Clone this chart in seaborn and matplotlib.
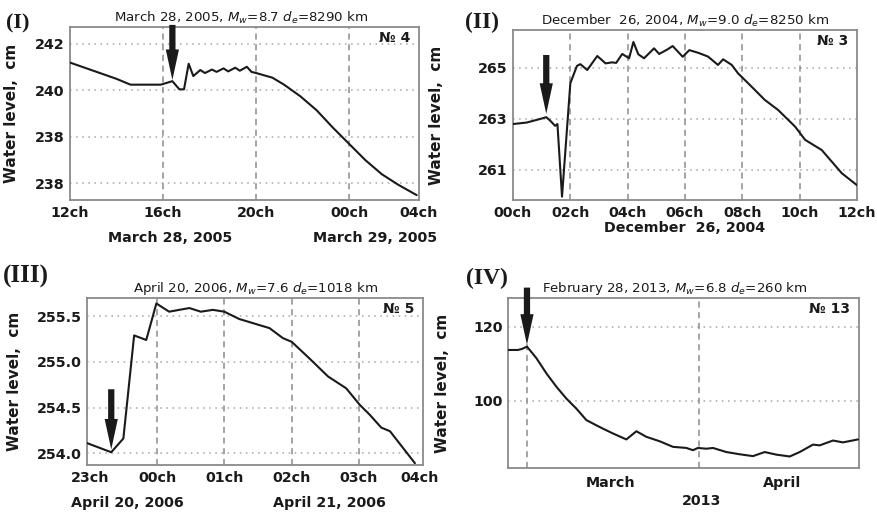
import numpy as np
import pandas as pd
import matplotlib
matplotlib.use("Agg")
import matplotlib.pyplot as plt
import seaborn as sns

sns.set_theme(style="white")
plt.rcParams["font.family"] = ["DejaVu Sans"]
plt.rcParams["mathtext.fontset"] = "dejavusans"

INK = "#1a1a1a"
FRAME = "#8a8a8a"

# ---------------- Panel I : March 28, 2005 (hours) ----------------
p1_hours = [12.0, 13.0, 14.0, 14.6, 15.9, 16.4, 16.7, 16.9, 17.1, 17.3, 17.6, 17.8,
            18.1, 18.3, 18.6, 18.8, 19.1, 19.3, 19.6, 19.8, 20.0, 20.7, 21.2, 21.9,
            22.6, 23.3, 24.0, 24.7, 25.4, 26.1, 26.9]
p1_level = [241.2, 240.85, 240.5, 240.25, 240.25, 240.4, 240.05, 240.05, 241.15, 240.62,
            240.88, 240.75, 240.9, 240.8, 240.95, 240.82, 240.98, 240.85, 241.02, 240.8,
            240.75, 240.55, 240.25, 239.75, 239.15, 238.4, 237.7, 237.0, 236.4, 235.95,
            235.5]
p1_ticks = [12, 16, 20, 24, 27]
p1_ticklabels = ["12ch", "16ch", "20ch", "00ch", "04ch"]
p1_vlines = [16, 20, 24]
p1_yticks = [242, 240, 238, 236]
p1_yticklabels = ["242", "240", "238", "238"]
p1_dates = ["March 28, 2005", "March 29, 2005"]
p1_date_x = [16.3, 25.1]
p1_arrow = (16.4, 242.82, 240.45)  # event time, arrow tail level, arrow tip level

# ---------------- Panel II : December 26, 2004 (hours) ----------------
p2_hours = [0.0, 0.48, 0.95, 1.16, 1.3, 1.47, 1.55, 1.71, 2.0, 2.23, 2.35, 2.59, 2.94,
            3.23, 3.45, 3.6, 3.81, 4.05, 4.2, 4.37, 4.57, 4.92, 5.1, 5.39, 5.57, 5.92,
            6.15, 6.45, 6.8, 7.15, 7.33, 7.63, 7.85, 8.32, 8.78, 9.25, 9.84, 10.19,
            10.77, 11.47, 12.0]
p2_level = [262.8, 262.86, 263.0, 263.07, 262.93, 262.73, 262.8, 259.95, 264.4, 265.08,
            265.15, 264.92, 265.47, 265.18, 265.22, 265.2, 265.55, 265.38, 266.02, 265.54,
            265.38, 265.77, 265.55, 265.73, 265.86, 265.44, 265.7, 265.6, 265.45, 265.12,
            265.34, 265.12, 264.79, 264.27, 263.75, 263.35, 262.7, 262.18, 261.78, 260.87,
            260.4]
p2_ticks = [0, 2, 4, 6, 8, 10, 12]
p2_ticklabels = ["00ch", "02ch", "04ch", "06ch", "08ch", "10ch", "12ch"]
p2_vlines = [2, 4, 6, 8, 10]
p2_yticks = [261, 263, 265]
p2_yticklabels = ["261", "263", "265"]
p2_arrow = (1.16, 265.51, 263.2)

# ---------------- Panel III : April 20-21, 2006 (hours from 00ch) ----------------
p3_hours = [-1.04, -0.68, -0.50, -0.34, -0.16, -0.01, 0.18, 0.48, 0.65, 0.83, 1.0, 1.22,
            1.67, 1.87, 2.0, 2.26, 2.54, 2.81, 3.01, 3.16, 3.33, 3.46, 3.65, 3.83]
p3_level = [254.11, 254.01, 254.16, 255.29, 255.24, 255.64, 255.55, 255.59, 255.55,
            255.57, 255.55, 255.47, 255.37, 255.26, 255.22, 255.04, 254.84, 254.71,
            254.53, 254.42, 254.28, 254.24, 254.06, 253.89]
p3_ticks = [-1, 0, 1, 2, 3, 3.9]
p3_ticklabels = ["23ch", "00ch", "01ch", "02ch", "03ch", "04ch"]
p3_vlines = [0, 1, 2, 3]
p3_yticks = [254.0, 254.5, 255.0, 255.5]
p3_yticklabels = ["254.0", "254.5", "255.0", "255.5"]
p3_dates = ["April 20, 2006", "April 21, 2006"]
p3_date_x = [-0.44, 2.56]
p3_arrow = (-0.68, 254.70, 254.04)

# ---------------- Panel IV : 2013 (days from March 1) ----------------
p4_days = [-4.53, -2.67, -1.9, -1.0, 0.75, 2.61, 4.47, 6.33, 8.19, 10.05, 11.91, 13.14,
           15.0, 17.49, 19.35, 21.21, 23.69, 26.16, 28.66, 29.88, 30.81, 32.38, 33.6,
           36.1, 38.57, 41.05, 43.22, 45.4, 47.88, 49.74, 52.21, 53.46, 55.93, 57.79,
           60.58]
p4_level = [113.7, 113.7, 114.0, 114.6, 111.5, 107.4, 103.8, 100.6, 97.9, 94.8, 93.4,
            92.5, 91.2, 89.6, 91.8, 90.3, 89.1, 87.6, 87.3, 86.7, 87.3, 87.1, 87.3, 86.2,
            85.6, 85.1, 86.2, 85.5, 85.0, 86.2, 88.2, 88.0, 89.3, 88.8, 89.6]
p4_ticks = [14.5, 46.5]
p4_ticklabels = ["March", "April"]
p4_vlines = [-1, 31]
p4_yticks = [100, 120]
p4_yticklabels = ["100", "120"]
p4_arrow = (-1.0, 130.5, 115.1)

panels = [
    dict(x=p1_hours, y=p1_level, xlim=(12, 27), ylim=(235.29, 242.73),
         ticks=p1_ticks, tl=p1_ticklabels, vl=p1_vlines, yt=p1_yticks, ytl=p1_yticklabels,
         arrow=p1_arrow, rect=[70, 27, 419, 200],
         title=r"March 28, 2005, $M_w$=8.7 $d_e$=8290 km", title_x=0.49, num="№ 4",
         label="(I)", label_pos=(6, 23), label_size=16,
         ylab_x=12),
    dict(x=p2_hours, y=p2_level, xlim=(0, 12), ylim=(259.82, 266.49),
         ticks=p2_ticks, tl=p2_ticklabels, vl=p2_vlines, yt=p2_yticks, ytl=p2_yticklabels,
         arrow=p2_arrow, rect=[513, 30, 857, 200],
         title=r"December  26, 2004, $M_w$=9.0 $d_e$=8250 km", title_x=0.5, num="№ 3",
         label="(II)", label_pos=(465, 22), label_size=17,
         ylab_x=437),
    dict(x=p3_hours, y=p3_level, xlim=(-1.04, 3.95), ylim=(253.87, 255.70),
         ticks=p3_ticks, tl=p3_ticklabels, vl=p3_vlines, yt=p3_yticks, ytl=p3_yticklabels,
         arrow=p3_arrow, rect=[87, 298, 423, 465],
         title=r"April 20, 2006, $M_w$=7.6 $d_e$=1018 km", title_x=0.5, num="№ 5",
         label="(III)", label_pos=(3, 276), label_size=18,
         ylab_x=15),
    dict(x=p4_days, y=p4_level, xlim=(-4.53, 60.77), ylim=(81.9, 127.7),
         ticks=p4_ticks, tl=p4_ticklabels, vl=p4_vlines, yt=p4_yticks, ytl=p4_yticklabels,
         arrow=p4_arrow, rect=[508, 298, 859, 468],
         title=r"February 28, 2013, $M_w$=6.8 $d_e$=260 km", title_x=0.476, num="№ 13",
         label="(IV)", label_pos=(466, 278), label_size=17,
         ylab_x=443),
]

W, H = 878, 514
fig = plt.figure(figsize=(W / 100, H / 100), dpi=100)
fig.patch.set_facecolor("white")

axes = []
for p in panels:
    l, t, r, b = p["rect"]
    ax = fig.add_axes([l / W, 1 - b / H, (r - l) / W, (b - t) / H])
    axes.append(ax)
    df = pd.DataFrame({"x": p["x"], "y": p["y"]})
    sns.lineplot(data=df, x="x", y="y", ax=ax, color=INK, lw=1.5,
                 estimator=None, sort=False, zorder=5)
    ax.set_xlim(*p["xlim"])
    ax.set_ylim(*p["ylim"])
    ax.set_xticks(p["ticks"])
    ax.set_xticklabels(p["tl"])
    ax.set_yticks(p["yt"])
    ax.set_yticklabels(p["ytl"])
    ax.tick_params(length=0, pad=4, labelsize=10.3, labelcolor=INK)
    for lab in ax.get_xticklabels() + ax.get_yticklabels():
        lab.set_fontweight("bold")
    for yv in p["yt"]:
        ax.axhline(yv, color="#a5a5a5", lw=1.1, ls=(0, (1, 3)), zorder=1)
    for xv in p["vl"]:
        ax.axvline(xv, color="#8c8c8c", lw=1.1, ls=(0, (4, 3)), zorder=1)
    for s in ax.spines.values():
        s.set_color(FRAME)
        s.set_linewidth(1.3)
    ax.set_xlabel("")
    ax.set_ylabel("")
    ax.set_title(p["title"], fontsize=9.6, color=INK, pad=4, x=p["title_x"])
    ax.text(0.975, 0.975, p["num"], transform=ax.transAxes, ha="right", va="top",
            fontsize=10, fontweight="bold", color=INK)
    ex, tail, tip = p["arrow"]
    ax.annotate("", xy=(ex, tip), xytext=(ex, tail),
                arrowprops=dict(arrowstyle="simple,head_length=2.2,head_width=0.95,tail_width=0.45",
                                mutation_scale=10, fc=INK, ec=INK, lw=0,
                                shrinkA=0, shrinkB=0),
                annotation_clip=False, zorder=8)
    lx, ly = p["label_pos"]
    fig.text(lx / W, 1 - ly / H, p["label"], family="Liberation Serif", fontweight="bold",
             fontsize=p["label_size"], ha="left", va="center", color=INK)
    yc = (t + b) / 2
    fig.text(p["ylab_x"] / W, 1 - yc / H, "Water level,  cm", rotation=90,
             ha="center", va="center", fontsize=11, fontweight="bold", color=INK)

# date labels under panels
ax1, ax2, ax3, ax4 = axes
for xv, txt in zip(p1_date_x, p1_dates):
    ax1.text(xv, -0.22, txt, transform=ax1.get_xaxis_transform(), ha="center", va="center",
             fontsize=10.3, fontweight="bold", color=INK)
ax2.text(6.0, -0.165, "December  26, 2004", transform=ax2.get_xaxis_transform(),
         ha="center", va="center", fontsize=10.3, fontweight="bold", color=INK)
for xv, txt in zip(p3_date_x, p3_dates):
    ax3.text(xv, -0.228, txt, transform=ax3.get_xaxis_transform(), ha="center", va="center",
             fontsize=10.3, fontweight="bold", color=INK)
ax4.text(31.4, -0.195, "2013", transform=ax4.get_xaxis_transform(),
         ha="center", va="center", fontsize=10.3, fontweight="bold", color=INK)
ax4.tick_params(axis="x", pad=6)

fig.savefig("out.png", dpi=100, facecolor="white")
